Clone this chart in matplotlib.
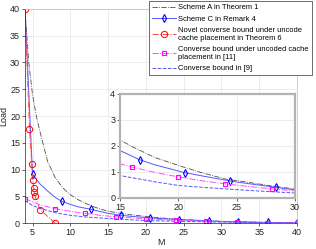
import matplotlib
matplotlib.use("Agg")
import matplotlib.pyplot as plt
import numpy as np

plt.rcParams['font.family'] = ['Liberation Sans', 'DejaVu Sans']
plt.rcParams['font.size'] = 6.5

# Scheme A in Theorem 1
M_a = [4, 4.5, 5, 5.5, 6, 7, 8, 9, 10, 11, 12, 13, 14, 15, 16, 18, 20, 22, 24, 26, 28, 30, 33, 36, 40]
L_a = [40, 30, 24, 20, 17, 11.5, 8.5, 6.6, 5.3, 4.4, 3.7, 3.1, 2.6, 2.23, 1.98, 1.55, 1.25, 0.97, 0.73, 0.6, 0.46, 0.34, 0.22, 0.12, 0.03]

# Scheme C in Remark 4 (diamonds at 5, 8.89, ..., 40)
M_c = [4, 5, 6, 7, 8, 8.89, 10, 11, 12.78, 14, 15, 16.67, 18, 20.56, 22, 24.44, 26, 28.33, 30, 32.22, 34, 36.11, 38, 40]
L_c = [40, 9.1, 7.3, 6.0, 4.8, 4.06, 3.5, 3.05, 2.56, 2.15, 1.82, 1.47, 1.27, 0.97, 0.85, 0.65, 0.55, 0.41, 0.31, 0.24, 0.18, 0.12, 0.07, 0.03]
mk_c = [1, 5, 8, 11, 13, 15, 17, 19, 21, 23]

# Novel converse bound (Theorem 6)
M_n = [4, 4.6, 4.9, 5.0, 5.17, 5.26, 5.34, 6.0, 8.0]
L_n = [40, 17.5, 11.1, 8.1, 6.6, 5.75, 5.0, 2.5, 0]

# Converse bound under uncoded placement [11] (squares at 4, 8, ..., 40)
M_u = [4, 6, 8, 10, 12, 14, 15, 16, 18, 20, 22, 24, 26, 28, 30, 32, 34, 36, 38, 40]
L_u = [4.57, 3.4, 2.7, 2.2, 1.8, 1.45, 1.31, 1.19, 0.98, 0.81, 0.66, 0.54, 0.44, 0.35, 0.27, 0.2, 0.15, 0.1, 0.06, 0.03]
mk_u = [0, 2, 4, 7, 9, 11, 13, 15, 17, 19]

# Converse bound in [9]
M_9 = [4, 5, 6, 8, 10, 12, 14, 15, 16, 18, 20, 22, 24, 26, 28, 30, 33, 36, 40]
L_9 = [4.2, 3.3, 2.75, 1.95, 1.45, 1.15, 0.95, 0.86, 0.78, 0.62, 0.48, 0.41, 0.35, 0.29, 0.24, 0.19, 0.13, 0.08, 0.02]

labels = ['Scheme A in Theorem 1', 'Scheme C in Remark 4',
          'Novel converse bound under uncode\ncache placement in Theorem 6',
          'Converse bound under uncoded cache\nplacement in [11]',
          'Converse bound in [9]']

grey = '#262626'


def draw(ax):
    ax.plot(M_a, L_a, '-.', color='#4d4d4d', lw=0.6)
    ax.plot(M_c, L_c, '-', color='#5555ff', lw=0.7, marker='d', markevery=mk_c,
            ms=4, mfc='none', mec='blue', mew=0.8)
    ax.plot(M_n, L_n, '-.', color='#ff4d4d', lw=0.7, marker='o', ms=4.5,
            mfc='none', mec='red', mew=0.7)
    ax.plot(M_u, L_u, '-.', color='#ff4dff', lw=0.7, marker='s', markevery=mk_u,
            ms=3.5, mfc='none', mec='#ff00ff', mew=0.8)
    ax.plot(M_9, L_9, '--', color='#5555ff', lw=0.7)
    ax.grid(True, color='#e6e6e6', lw=0.5)
    ax.set_axisbelow(True)
    ax.tick_params(colors=grey, labelsize=6.5, length=2, width=0.5, pad=1.5)


fig = plt.figure(figsize=(3.16, 2.49), dpi=100)
ax = fig.add_axes([0.079, 0.104, 0.861, 0.86])
draw(ax)
ax.set_xlim(4, 40)
ax.set_ylim(0, 40)
ax.set_xticks(np.arange(5, 41, 5))
ax.set_yticks(np.arange(0, 41, 5))
ax.set_xlabel('M', color=grey, labelpad=1)
ax.set_ylabel('Load', color=grey, labelpad=1)
for s in ax.spines.values():
    s.set_color('#bfbfbf')
    s.set_linewidth(0.5)
ax.spines['left'].set_color(grey)
ax.spines['bottom'].set_color(grey)

ins = fig.add_axes([0.38, 0.205, 0.554, 0.418])
draw(ins)
ins.set_xlim(15, 30)
ins.set_ylim(0, 4)
ins.set_xticks([15, 20, 25, 30])
ins.set_yticks([0, 1, 2, 3, 4])
for s in ins.spines.values():
    s.set_color('#b3b3b3')
    s.set_linewidth(1.6)

leg = fig.legend(ax.get_lines(), labels, loc='upper right',
                 bbox_to_anchor=(312 / 316, 1 - 1 / 249), fontsize=5.4,
                 fancybox=False, framealpha=1, edgecolor='#333333',
                 handlelength=3.3, handletextpad=0.3, borderpad=0.4,
                 labelspacing=0.55, borderaxespad=0)
leg.get_frame().set_linewidth(0.5)

fig.savefig('out.png', dpi=100)
